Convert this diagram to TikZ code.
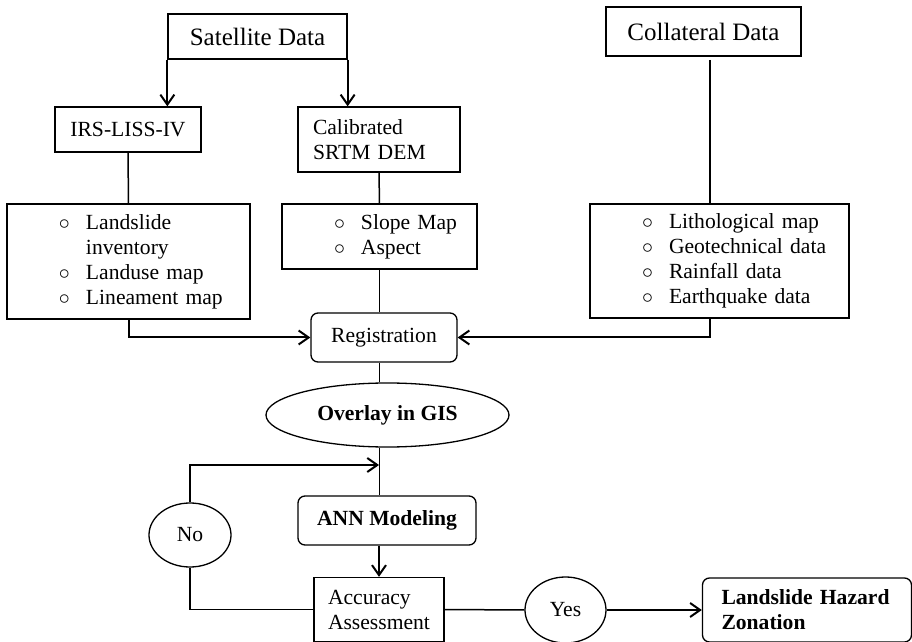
\documentclass[tikz,border=0pt]{standalone}
\usepackage{fontspec}
\setmainfont{Liberation Serif}
\setmonofont{Liberation Mono}
\usepackage{tikz}
\usetikzlibrary{calc,positioning,arrows.meta,shapes.geometric}
\newcommand{\bul}{\hspace*{26pt}\makebox[13.5pt][l]{$\circ$}}
\newcommand{\ind}{\hspace*{39.5pt}}
\tikzset{
  box/.style={rectangle,draw=black,line width=0.65pt,inner sep=0pt,font=\fontsize{10.8}{12.5}\selectfont},
  head/.style={box,font=\fontsize{12.5}{15}\selectfont},
  lst/.style={box,align=left,text width=#1},
  rbox/.style={box,rounded corners=3.5pt},
  oval/.style={ellipse,draw=black,line width=0.65pt,inner sep=0pt,font=\fontsize{10.8}{12.5}\selectfont},
  bld/.style={font=\fontsize{10.8}{12.5}\selectfont\bfseries},
  ln/.style={line width=0.75pt,black},
  arr/.style={ln,line width=1pt,-{Straight Barb[length=5pt,width=7pt]}},
}
\begin{document}
\begin{tikzpicture}[x=0.5pt,y=-0.5pt]
  \clip (0,0) rectangle (912,642);
  \node[head,minimum width=89.5pt,minimum height=22.5pt](sat) at (257.5,36.5){Satellite Data\hspace{7pt}};
  \node[head,minimum width=97.5pt,minimum height=24.5pt](col) at (703.5,31.5){Collateral Data\hspace{7pt}};
  \node[box,minimum width=73pt,minimum height=22.5pt](irs) at (128,129.5){IRS-LISS-IV};
  \node[box,align=left,inner xsep=7.5pt,text width=66pt,minimum height=32.5pt](cal) at (379,139.5){Calibrated\\SRTM DEM};
  \node[lst=121.5pt,minimum height=57.5pt](lft) at (128.5,261.5){\bul Landslide\\\ind inventory\\\bul Landuse map\\\bul Lineament map};
  \node[lst=97.5pt,minimum height=32.5pt](mid) at (379.5,236.5){\bul Slope Map\\\bul Aspect};
  \node[lst=129.5pt,minimum height=57pt](rgt) at (719.5,261){\bul Lithological map\\\bul Geotechnical data\\\bul Rainfall data\\\bul Earthquake data};
  \node[rbox,minimum width=73pt,minimum height=24.5pt](reg) at (384,337.5){Registration};
  \node[oval,bld,minimum width=121.5pt,minimum height=32pt](gis) at (387.5,415){Overlay in GIS};
  \node[rbox,bld,minimum width=89pt,minimum height=24.5pt](ann) at (387,520.5){ANN Modeling};
  \node[box,align=left,inner xsep=7pt,text width=51pt,minimum height=32pt](acc) at (379,609.5){Accuracy\\Assessment};
  \node[oval,minimum width=41pt,minimum height=32pt](no) at (190,535){No};
  \node[oval,minimum width=40.5pt,minimum height=33pt](yes) at (565.5,610){Yes};
  \node[rbox,bld,align=left,inner xsep=9.5pt,text width=85.5pt,minimum height=32pt](lhz) at (807,610){Landslide Hazard\\Zonation};
  \coordinate (cdrop) at (710,60);
  \coordinate (loop) at (379,465);
  \draw[arr] (sat.south west) -- (sat.south west |- irs.north);
  \draw[arr] (sat.south east) -- (sat.south east |- cal.north);
  \draw[ln] (irs.south) -- (lft.north);
  \draw[ln] (cal.south) -- (mid.north);
  \draw[ln] (cdrop) -- (cdrop |- rgt.north);
  \draw[ln] (mid.south) -- (mid.south |- reg.north);
  \draw[arr] (lft.south) |- (reg.west);
  \draw[arr] (rgt.south -| cdrop) |- (reg.east);
  \draw[ln] (reg.south -| mid.south) -- (gis.north -| mid.south);
  \draw[ln] (gis.south -| mid.south) -- (ann.north -| mid.south);
  \draw[arr] (no.north) |- (loop);
  \draw[arr] (ann.south -| acc.north) -- (acc.north);
  \draw[ln] (no.south) |- (acc.west);
  \draw[ln] (acc.east) -- (yes.west);
  \draw[arr] (yes.east) -- (lhz.west);
\end{tikzpicture}
\end{document}
